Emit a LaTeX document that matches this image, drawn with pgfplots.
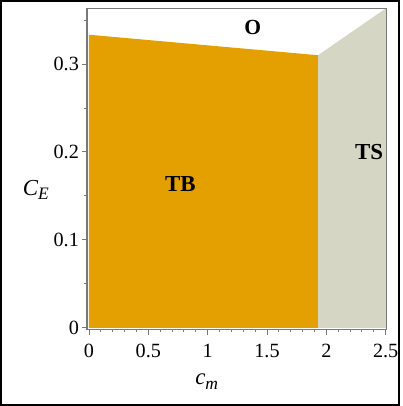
\documentclass[border=0pt]{standalone}
\usepackage{pgfplots}
\pgfplotsset{compat=1.18}
\usepackage{fontspec}
\setmainfont{Liberation Serif}
\newfontfamily\tnr{Liberation Serif}
\definecolor{tborange}{RGB}{228,160,0}
\definecolor{tsgray}{RGB}{214,214,196}
\definecolor{axgray}{RGB}{120,120,120}
\begin{document}
\begin{tikzpicture}
\begin{axis}[
  at={(0,0)}, anchor=south west,
  scale only axis, width=222.75pt, height=238.5pt,
  xmin=-0.017, xmax=2.508, ymin=-0.0015, ymax=0.3634,
  axis line style={axgray, line width=0.8pt},
  xtick={0,0.5,1,1.5,2,2.5},
  ytick={0,0.1,0.2,0.3},
  xticklabels={0,0.5,1,1.5,2,2.5},
  yticklabels={0,0.1,0.2,0.3},
  /pgf/number format/assume math mode=true,
  minor xtick={0.1,0.2,0.3,0.4,0.6,0.7,0.8,0.9,1.1,1.2,1.3,1.4,1.6,1.7,1.8,1.9,2.1,2.2,2.3,2.4},
  minor ytick={0.05,0.15,0.25,0.35},
  tick align=outside,
  xtick pos=bottom, ytick pos=left,
  major tick length=4pt, minor tick length=2.5pt,
  tick style={axgray, line width=0.7pt},
  xticklabel style={font=\tnr\fontsize{15}{17}\selectfont, yshift=-3.5pt},
  yticklabel style={font=\tnr\fontsize{15}{17}\selectfont, xshift=1.5pt},
  axis on top,
  clip=true,
]
\addplot[fill=tborange, draw=none] coordinates {(0,0) (1.93,0) (1.93,0.310) (0,0.3333)} -- cycle;
\addplot[fill=tsgray, draw=none] coordinates {(1.93,0) (2.52,0) (2.52,0.365) (1.93,0.310)} -- cycle;
\node[font=\tnr\fontsize{16}{18}\selectfont\bfseries] at (axis cs:1.38,0.341) {O};
\node[font=\tnr\fontsize{17}{19}\selectfont\bfseries] at (axis cs:0.77,0.163) {TB};
\node[font=\tnr\fontsize{17}{19}\selectfont\bfseries] at (axis cs:2.36,0.20) {TS};
\end{axis}
\node[font=\tnr\fontsize{17}{19}\selectfont] at (-38pt,103.5pt) {\textit{C}\raisebox{-0.35ex}{\fontsize{13}{15}\selectfont\textit{E}}};
\node[font=\tnr\fontsize{17}{19}\selectfont] at (89pt,-39pt) {\textit{c}\raisebox{-0.55ex}{\fontsize{13}{15}\selectfont\textit{m}}};
\draw[line width=1.8pt] (-63.75pt,-56.25pt) rectangle (231.75pt,243.75pt);
\end{tikzpicture}
\end{document}
